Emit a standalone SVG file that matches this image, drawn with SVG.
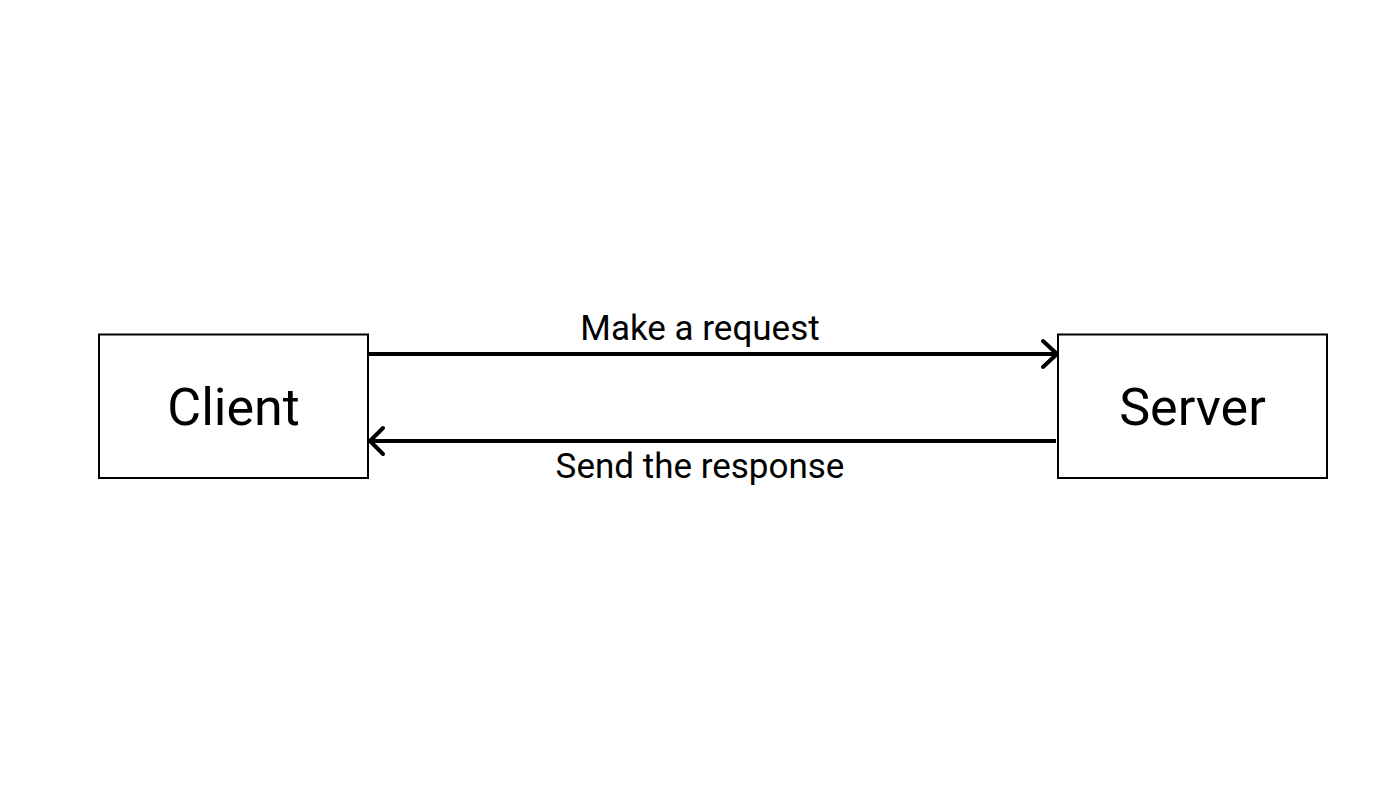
<svg xmlns="http://www.w3.org/2000/svg" width="1400" height="788" viewBox="0 0 1400 788">
<style>
.box{fill:#fff;stroke:#000;stroke-width:2}
.node{font-family:Roboto,"Liberation Sans",sans-serif;font-size:52px;fill:#000;text-anchor:middle}
.lbl{font-family:Roboto,"Liberation Sans",sans-serif;font-size:35px;fill:#000;text-anchor:middle}
.edge{stroke:#000;stroke-width:4;fill:none}
.head{stroke:#000;stroke-width:4;fill:none;stroke-linecap:round;stroke-linejoin:round}
</style>
<rect width="1400" height="788" fill="#fff"/>
<g id="client">
<rect class="box" x="99" y="334.5" width="269" height="143.5"/>
<text class="node" x="233.5" y="425">Client</text>
</g>
<g id="server">
<rect class="box" x="1058" y="334.5" width="269" height="143.5"/>
<text class="node" x="1192.5" y="425">Server</text>
</g>
<g id="connectors">
<line class="edge" x1="369" y1="354" x2="1057" y2="354"/>
<polyline class="head" points="1043,341 1057,354 1043,367"/>
<text class="lbl" x="700" y="340">Make a request</text>
<line class="edge" x1="1056" y1="441" x2="370" y2="441"/>
<polyline class="head" points="383,428 370,441 383,454"/>
<text class="lbl" x="700" y="478">Send the response</text>
</g>
</svg>
